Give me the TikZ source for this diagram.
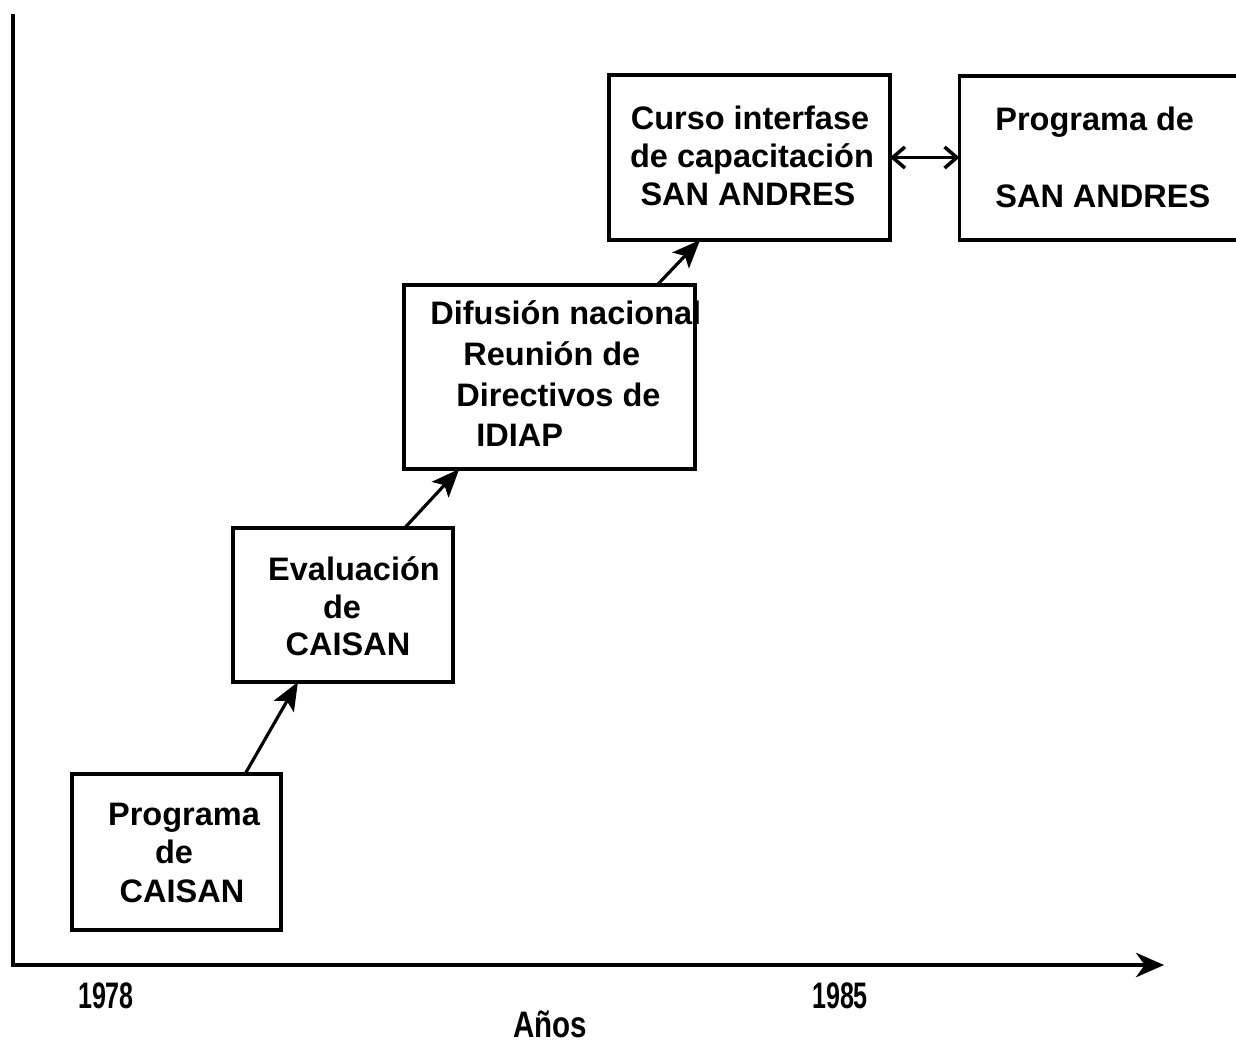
\documentclass[tikz,border=0pt]{standalone}
\usepackage{fontspec}
\setmainfont{Liberation Sans}
\usetikzlibrary{arrows.meta,calc}
\begin{document}
\begin{tikzpicture}[x=0.02cm,y=-0.02cm,
  box/.style={draw,line width=1.8pt,inner sep=0pt,outer sep=0pt},
  txt/.style={inner sep=0pt,font=\fontsize{18.5}{22}\selectfont\bfseries},
  yr/.style={inner sep=0pt,font=\fontsize{21}{21}\selectfont\bfseries},
  stepar/.style={line width=1.8pt,-{Stealth[length=16pt,width=13pt,inset=3.5pt]}},
  duoar/.style={line width=1.2pt,{Straight Barb[length=7pt,width=12pt,line width=2pt]}-{Straight Barb[length=7pt,width=12pt,line width=2pt]}},
  axis/.style={line width=1.8pt,line join=miter,-{Stealth[length=16pt,width=14pt,inset=5pt]}}]
\useasboundingbox (0,0) rectangle (1236,1045);

% boxes
\node[box,minimum width=4.18cm,minimum height=3.12cm] (b1) at (176.5,852) {};
\node[box,minimum width=4.40cm,minimum height=3.08cm] (b2) at (343,605) {};
\node[box,minimum width=5.82cm,minimum height=3.68cm] (b3) at (549.5,377) {};
\node[box,minimum width=5.62cm,minimum height=3.30cm] (b4) at (749.5,157.5) {};
\node[box,minimum width=5.62cm,minimum height=3.28cm] (b5) at (1100,158) {};

% texts
\node[txt,anchor=base] (t1a) at (184,825) {Programa};
\node[txt,anchor=base] (t1b) at (174,863) {de};
\node[txt,anchor=base] (t1c) at (182,902) {CAISAN};

\node[txt,anchor=base] (t2a) at (354,580) {Evaluación};
\node[txt,anchor=base] (t2b) at (342,618) {de};
\node[txt,anchor=base] (t2c) at (348,655) {CAISAN};

\node[txt,anchor=base west] (t3a) at (430,324) {Difusión nacional};
\node[txt,anchor=base west] (t3b) at (463,365) {Reunión de};
\node[txt,anchor=base west] (t3c) at (456,406) {Directivos de};
\node[txt,anchor=base west] (t3d) at (476,446) {IDIAP};

\node[txt,anchor=base] (t4a) at (750,129) {Curso interfase};
\node[txt,anchor=base] (t4b) at (752,167) {de capacitación};
\node[txt,anchor=base] (t4c) at (748,205) {SAN ANDRES};

\node[txt,anchor=base west] (t5a) at (995,130) {Programa de};
\node[txt,anchor=base west] (t5b) at (995,207) {SAN ANDRES};

% connectors
\draw[stepar] ($(b1.north west)!0.828!(b1.north east)$) -- ($(b2.south west)!0.295!(b2.south east)$);
\draw[stepar] ($(b2.north west)!0.78!(b2.north east)$) -- ($(b3.south west)!0.19!(b3.south east)$);
\draw[stepar] ($(b3.north west)!0.87!(b3.north east)$) -- ($(b4.south west)!0.324!(b4.south east)$);
\draw[duoar] (b4.east) -- (b4.east -| b5.west);

% axes
\coordinate (ytop) at (13,14);
\coordinate (orig) at (13,965);
\coordinate (xend) at (1164,965);
\draw[axis] (ytop) -- (orig) -- (xend);

\node[yr,anchor=base] (y1) at (106,1008) {\scalebox{0.68}[1]{1978}};
\node[yr,anchor=base] (y2) at (840,1008) {\scalebox{0.68}[1]{1985}};
\node[yr,anchor=base] (yl) at (550,1037) {\scalebox{0.8}[1]{Años}};
\end{tikzpicture}
\end{document}
